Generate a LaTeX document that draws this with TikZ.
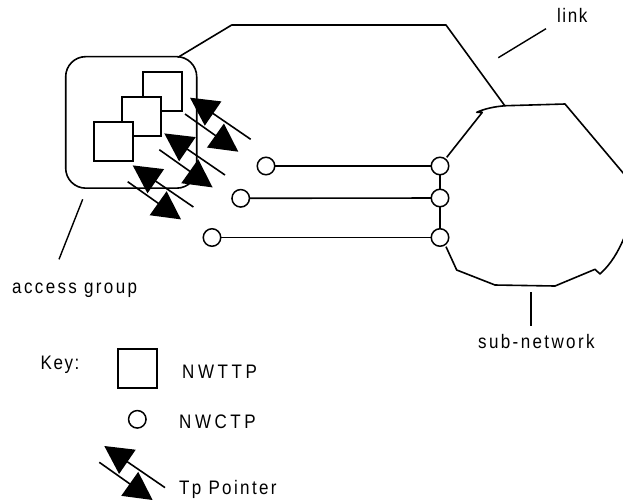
\documentclass[tikz,border=0pt]{standalone}
\usepackage{graphicx}
\usepackage{fontspec}
\setmainfont{Liberation Sans}
\newfontfamily\spacedA[LetterSpace=9]{Liberation Sans}
\newfontfamily\spacedB[LetterSpace=14]{Liberation Sans}
\newfontfamily\spacedC[LetterSpace=21]{Liberation Sans}
\newcommand{\tallfont}[1]{\scalebox{1}[1.15]{#1}}
\usetikzlibrary{arrows.meta}
\tikzset{
  ln/.style={draw=black,line width=1.6pt,line join=round},
  thin ln/.style={draw=black,line width=1.4pt},
  tpbox/.style={draw=black,fill=white,line width=2pt,minimum size=39pt,inner sep=0pt,outer sep=0pt},
  ctp/.style={circle,draw=black,fill=white,line width=1.5pt,minimum size=17.5pt,inner sep=0pt,outer sep=0pt},
  lab/.style={inner sep=0pt,anchor=base west},
  labA/.style={lab,font=\fontsize{17}{20}\selectfont\spacedA},
  labB/.style={lab,font=\fontsize{17}{20}\selectfont\spacedB},
  labC/.style={lab,font=\fontsize{17}{20}\selectfont\spacedC},
  ptr/.style={draw=black,line width=1.6pt,-{Triangle[length=28pt,width=29pt]},shorten >=0pt},
  pics/tppointer/.style={code={
    \coordinate (-t1) at (60.7,41.6);
    \coordinate (-h1) at (0,0);
    \coordinate (-t2) at (-5,16.3);
    \coordinate (-h2) at (48.3,54);
    \draw[ptr] (-t1) -- (-h1);
    \draw[ptr] (-t2) -- (-h2);
  }}
}
\begin{document}
\begin{tikzpicture}[x=1pt,y=-1pt]
\useasboundingbox (0,0) rectangle (623,499);
\begin{scope}
\clip (0,0) rectangle (623,499);

% access group
\node[draw=black,line width=1.6pt,rounded corners=20pt,minimum width=131pt,minimum height=131.5pt,inner sep=0pt,outer sep=0pt] (ag) at (131.2,122.4) {};
\node[tpbox] (s1) at (162.5,91.5) {};
\node[tpbox] (s2) at (141.3,116.3) {};
\node[tpbox] (s3) at (113,141) {};

% subnetwork termination points
\node[ctp] (a1) at (266,166) {};
\node[ctp] (a2) at (240.7,198.3) {};
\node[ctp] (a3) at (212,237.5) {};
\node[ctp] (b1) at (440,166) {};
\node[ctp] (b2) at (440,198) {};
\node[ctp] (b3) at (440,237.5) {};
\draw[ln] (a1) -- (b1);
\draw[ln] (a2) -- (b2);
\draw[ln] (a3) -- (b3);
\draw[ln] (b1) -- (b2);
\draw[ln] (b2) -- (b3);

% sub-network outline
\coordinate (n1) at (446.7,157.3);
\coordinate (n2) at (446,246.7);
\draw[ln] (n1) -- (482.3,112.3) -- (476.7,112.3)
  .. controls (484,109) and (494,106.5) .. (506,105.7)
  -- (565,104) -- (624,174);
\draw[ln] (624,238) .. controls (618,252) and (611,264) .. (600,274)
  -- (595,269.3) -- (555,286) -- (495,285) -- (456.7,270) -- (n2);

% link
\coordinate (l0) at (178,57.3);
\coordinate (l1) at (231.7,25);
\coordinate (l2) at (446,25);
\coordinate (l3) at (505,106);
\draw[ln] (l0) -- (l1) -- (l2) -- (l3);

% leader lines
\coordinate (lk1) at (546,28.7);
\coordinate (lk2) at (498.3,57.7);
\draw[thin ln] (lk1) -- (lk2);
\coordinate (gr1) at (82.7,199.3);
\coordinate (gr2) at (59,259.3);
\draw[thin ln] (gr1) -- (gr2);
\coordinate (sn1) at (531,292);
\coordinate (sn2) at (531,326);
\draw[thin ln] (sn1) -- (sn2);

% Tp pointers
\pic (p1) at (190,97.7) {tppointer};
\pic (p2) at (164.3,133.4) {tppointer};
\pic (p3) at (132.7,165.4) {tppointer};

% labels
\node[labA] (tlink) at (557,22) {\tallfont{link}};
\node[labB] (tag) at (12,293) {\tallfont{access group}};
\node[labB] (tsn) at (478,348) {\tallfont{sub-network}};

% key
\node[labA] (tkey) at (40.5,369) {\tallfont{Key:}};
\node[tpbox] (ks) at (137.8,368.8) {};
\node[labC] (tn1) at (182,378.5) {\tallfont{NWTTP}};
\node[ctp] (kc) at (137.3,419.3) {};
\node[labC] (tn2) at (179,428) {\tallfont{NWCTP}};
\pic (kp) at (104.3,446) {tppointer};
\node[labB] (tp) at (179,494) {\tallfont{Tp Pointer}};
\end{scope}
\end{tikzpicture}
\end{document}
